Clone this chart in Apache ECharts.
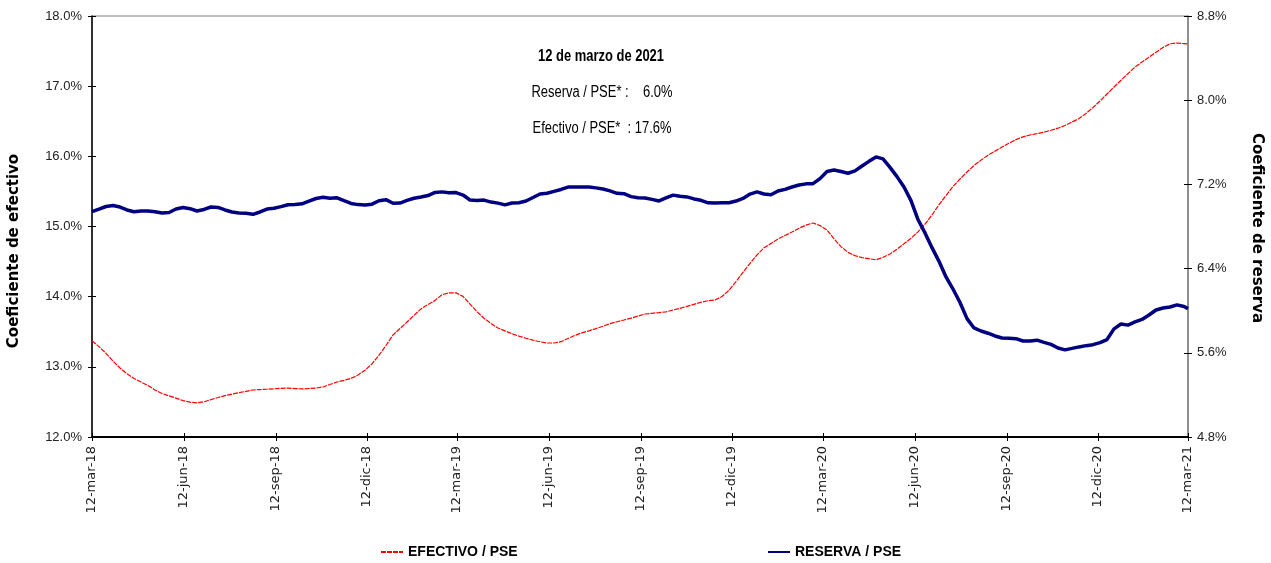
<!DOCTYPE html>
<html>
<head>
<meta charset="utf-8">
<script src="https://cdn.jsdelivr.net/npm/echarts@6/dist/echarts.min.js"></script>
<style>html,body{margin:0;padding:0;background:#fff}#c{width:1271px;height:563px}</style>
</head>
<body>
<div id="c"></div>
<script>
// ---- data ----
const fechaInicio = [2018, 2, 12];   // 12-mar-18 (first weekly observation)
const fechaFinal = [2021, 2, 12];    // 12-mar-21 (last observation)
const numSemanas = 157;              // weekly observations before the final one

const efectivo = [
  13.372,13.288,13.193,13.083,12.983,12.901,12.834,12.784,12.733,12.671,
  12.619,12.587,12.554,12.519,12.496,12.487,12.502,12.533,12.563,12.590,
  12.611,12.633,12.651,12.670,12.676,12.681,12.687,12.693,12.697,12.690,
  12.685,12.691,12.697,12.713,12.748,12.784,12.808,12.834,12.884,12.952,
  13.042,13.166,13.304,13.454,13.546,13.639,13.733,13.826,13.888,13.947,
  14.027,14.055,14.054,14.004,13.895,13.784,13.692,13.618,13.553,13.512,
  13.471,13.437,13.408,13.380,13.357,13.340,13.340,13.358,13.404,13.448,
  13.485,13.513,13.545,13.579,13.615,13.642,13.667,13.694,13.723,13.753,
  13.763,13.773,13.784,13.810,13.834,13.861,13.891,13.921,13.942,13.952,
  14.002,14.092,14.213,14.347,14.474,14.594,14.696,14.759,14.822,14.872,
  14.921,14.976,15.020,15.050,15.013,14.950,14.825,14.713,14.631,14.585,
  14.557,14.541,14.525,14.562,14.609,14.676,14.753,14.833,14.924,15.033,
  15.164,15.311,15.440,15.569,15.677,15.777,15.869,15.946,16.016,16.074,
  16.133,16.187,16.238,16.278,16.304,16.324,16.344,16.372,16.401,16.439,
  16.489,16.539,16.610,16.697,16.788,16.888,16.988,17.085,17.179,17.273,
  17.343,17.414,17.484,17.552,17.604,17.615,17.606,17.601
];

const reserva = [
  6.941,6.965,6.990,6.999,6.985,6.957,6.940,6.947,6.947,6.940,
  6.928,6.933,6.966,6.981,6.969,6.947,6.962,6.985,6.981,6.957,
  6.938,6.928,6.926,6.916,6.938,6.966,6.973,6.989,7.007,7.009,
  7.016,7.042,7.066,7.077,7.068,7.073,7.045,7.019,7.008,7.004,
  7.012,7.045,7.055,7.021,7.023,7.048,7.068,7.080,7.094,7.124,
  7.129,7.121,7.122,7.099,7.052,7.047,7.051,7.032,7.022,7.005,
  7.023,7.026,7.042,7.075,7.109,7.116,7.134,7.152,7.175,7.175,
  7.175,7.175,7.167,7.156,7.138,7.115,7.112,7.084,7.074,7.071,
  7.058,7.043,7.071,7.098,7.087,7.081,7.062,7.049,7.025,7.023,
  7.026,7.026,7.042,7.067,7.108,7.129,7.109,7.101,7.137,7.153,
  7.175,7.194,7.205,7.207,7.255,7.323,7.336,7.323,7.306,7.329,
  7.375,7.419,7.461,7.442,7.362,7.274,7.176,7.046,6.866,6.739,
  6.599,6.469,6.321,6.206,6.078,5.925,5.836,5.807,5.786,5.760,
  5.741,5.738,5.734,5.712,5.712,5.720,5.699,5.680,5.646,5.628,
  5.642,5.656,5.668,5.677,5.697,5.726,5.827,5.874,5.863,5.893,
  5.917,5.959,6.007,6.026,6.035,6.055,6.040,6.020
];

const tickFechas = [
  [2018,2,12],[2018,5,12],[2018,8,12],[2018,11,12],
  [2019,2,12],[2019,5,12],[2019,8,12],[2019,11,12],
  [2020,2,12],[2020,5,12],[2020,8,12],[2020,11,12],
  [2021,2,12]
];
const mesesES = ['ene','feb','mar','abr','may','jun','jul','ago','sep','oct','nov','dic'];
const serieNombres = ['EFECTIVO / PSE', 'RESERVA / PSE'];
const ejeEfectivo = { min: 12, max: 18, interval: 1 };
const ejeReserva = { min: 4.8, max: 8.8, interval: 0.8 };
const tituloTexto = '12 de marzo de 2021';
const nombreEjeIzq = 'Coeficiente de efectivo';
const nombreEjeDer = 'Coeficiente de reserva';

// ---- build ----
const fechas = [];
for (let i = 0; i < numSemanas; i++) fechas.push(new Date(fechaInicio[0], fechaInicio[1], fechaInicio[2] + 7 * i).getTime());
fechas.push(new Date(fechaFinal[0], fechaFinal[1], fechaFinal[2]).getTime());
const tickTs = tickFechas.map(d => new Date(d[0], d[1], d[2]).getTime());
const tMin = tickTs[0], tMax = tickTs[tickTs.length - 1];

const sans = "'Liberation Sans', Arial, sans-serif";
const fmtFecha = v => { const d = new Date(v); return d.getDate() + '-' + mesesES[d.getMonth()] + '-' + String(d.getFullYear()).slice(2); };
const fmtPct = v => v.toFixed(1) + '%';

const ultEf = efectivo[efectivo.length - 1].toFixed(1);
const ultRe = reserva[reserva.length - 1].toFixed(1);

const legendStyle = { fontFamily: sans, fontWeight: 'bold', fontSize: 14, color: '#000' };

const chart = echarts.init(document.getElementById('c'), null, { renderer: 'canvas' });
chart.setOption({
  animation: false,
  backgroundColor: '#fff',
  grid: { left: 92, right: 83, top: 16, bottom: 126, show: true, borderColor: '#808080', borderWidth: 1, containLabel: false },
  xAxis: [
    { type: 'value', min: tMin, max: tMax, scale: true,
      axisLine: { show: true, lineStyle: { color: '#000', width: 2 } },
      axisTick: { show: true, customValues: tickTs, length: 4, lineStyle: { color: '#000', width: 1 } },
      axisLabel: { customValues: tickTs, rotate: 90, formatter: fmtFecha, fontFamily: 'DejaVu Sans', fontSize: 13, color: '#222', margin: 9 },
      splitLine: { show: false } },
    { type: 'value', min: tMin, max: tMax, scale: true, position: 'bottom',
      axisLine: { show: false },
      axisTick: { show: true, inside: true, customValues: tickTs, length: 4, lineStyle: { color: '#000', width: 1 } },
      axisLabel: { show: false }, splitLine: { show: false } }
  ],
  yAxis: [
    { type: 'value', min: ejeEfectivo.min, max: ejeEfectivo.max, interval: ejeEfectivo.interval, position: 'left',
      axisLine: { show: true, lineStyle: { color: '#000', width: 1.5 } },
      axisTick: { show: true, length: 4, lineStyle: { color: '#000' } },
      axisLabel: { formatter: fmtPct, fontFamily: sans, fontSize: 13, color: '#222', margin: 10 },
      splitLine: { show: false } },
    { type: 'value', min: ejeReserva.min, max: ejeReserva.max, interval: ejeReserva.interval, position: 'right',
      axisLine: { show: true, lineStyle: { color: '#808080', width: 1.5 } },
      axisTick: { show: true, length: 4, lineStyle: { color: '#000' } },
      axisLabel: { formatter: fmtPct, fontFamily: sans, fontSize: 13, color: '#222', margin: 9 },
      splitLine: { show: false } },
    { type: 'value', min: ejeEfectivo.min, max: ejeEfectivo.max, interval: ejeEfectivo.interval, position: 'left',
      axisLine: { show: false }, axisTick: { show: true, inside: true, length: 4, lineStyle: { color: '#000' } },
      axisLabel: { show: false }, splitLine: { show: false } },
    { type: 'value', min: ejeReserva.min, max: ejeReserva.max, interval: ejeReserva.interval, position: 'right',
      axisLine: { show: false }, axisTick: { show: true, inside: true, length: 4, lineStyle: { color: '#000' } },
      axisLabel: { show: false }, splitLine: { show: false } }
  ],
  legend: [
    { data: [serieNombres[0]], left: 380, top: 545, padding: 0, itemWidth: 22, itemHeight: 12, itemGap: 0,
      itemStyle: { opacity: 0 }, textStyle: legendStyle },
    { data: [serieNombres[1]], left: 767, top: 545, padding: 0, itemWidth: 22, itemHeight: 12, itemGap: 0,
      itemStyle: { opacity: 0 }, textStyle: legendStyle }
  ],
  series: [
    { name: serieNombres[0], type: 'line', xAxisIndex: 0, yAxisIndex: 0, symbol: 'none', smooth: false,
      lineStyle: { color: '#ff0000', width: 1.2, type: [5, 1] }, itemStyle: { color: '#ff0000' },
      data: fechas.map((t, i) => [t, efectivo[i]]) },
    { name: serieNombres[1], type: 'line', xAxisIndex: 0, yAxisIndex: 1, symbol: 'none', smooth: false,
      lineStyle: { color: '#000080', width: 3.5 }, itemStyle: { color: '#000080' },
      data: fechas.map((t, i) => [t, reserva[i]]) }
  ],
  graphic: [
    { type: 'text', x: 601, y: 57, scaleX: 0.81, style: { text: tituloTexto, font: "bold 16px " + sans, fill: '#000', align: 'center', verticalAlign: 'middle' } },
    { type: 'text', x: 602, y: 93, scaleX: 0.81, style: { text: 'Reserva / PSE* :    ' + ultRe + '%', font: "16px " + sans, fill: '#000', align: 'center', verticalAlign: 'middle' } },
    { type: 'text', x: 602, y: 129, scaleX: 0.81, style: { text: 'Efectivo / PSE*  : ' + ultEf + '%', font: "16px " + sans, fill: '#000', align: 'center', verticalAlign: 'middle' } },
    { type: 'text', x: 14, y: 251, rotation: Math.PI / 2, style: { text: nombreEjeIzq, font: "bold 15px 'DejaVu Sans'", fill: '#000', align: 'center', verticalAlign: 'middle' } },
    { type: 'text', x: 1257, y: 228, rotation: -Math.PI / 2, style: { text: nombreEjeDer, font: "bold 15px 'DejaVu Sans'", fill: '#000', align: 'center', verticalAlign: 'middle' } }
  ]
});
</script>
</body>
</html>
